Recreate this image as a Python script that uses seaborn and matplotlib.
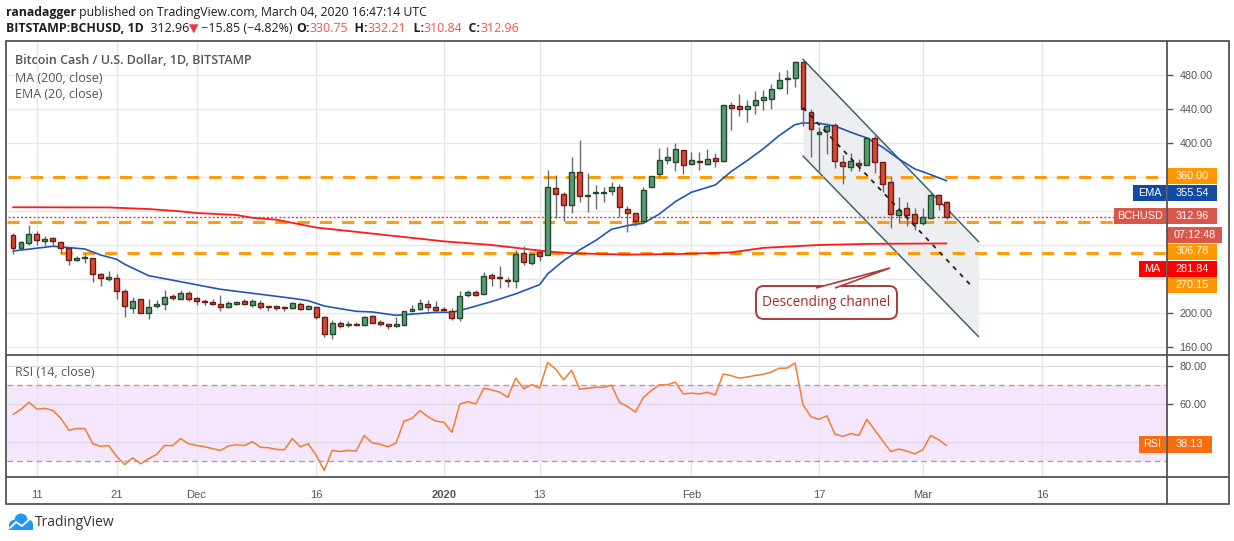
import numpy as np
import pandas as pd
import matplotlib
matplotlib.use("Agg")
import matplotlib.pyplot as plt
import seaborn as sns
from matplotlib.patches import Rectangle, FancyBboxPatch, Polygon, Circle

# ---------------- data ----------------
start_date = "2019-11-08"
opens = [292.2, 276.5, 282.8, 293.3, 284.7, 288.6, 283.9, 276.9, 262.8, 264.7,
         265.1, 246.3, 240.0, 241.6, 226.3, 205.9, 216.1, 200.4, 208.3, 211.0,
         220.4, 216.5, 224.0, 217.3, 214.5, 213.5, 211.0, 207.1, 210.6, 213.8,
         209.9, 212.2, 208.7, 207.9, 207.1, 206.3, 211.0, 205.1, 206.7, 195.7,
         175.7, 188.7, 185.5, 186.7, 186.3, 196.9, 189.9, 187.5, 184.8, 186.3,
         202.8, 205.1, 211.0, 207.5, 204.8, 202.8, 194.6, 221.2, 224.4, 222.8,
         244.8, 242.4, 239.3, 237.4, 270.7, 258.5, 271.8, 268.3, 347.1, 340.0,
         327.1, 366.0, 337.7, 340.8, 341.6, 343.6, 348.3, 322.0, 317.7, 308.3,
         348.3, 363.6, 380.0, 377.7, 391.8, 375.3, 378.9, 375.3, 382.4, 378.9,
         444.7, 443.5, 440.0, 444.7, 450.6, 451.8, 464.7, 474.9, 476.5, 495.3,
         436.5, 410.6, 413.8, 421.2, 377.7, 371.8, 376.5, 374.2, 405.9, 377.7,
         354.2, 315.4, 324.0, 316.1, 305.9, 311.4, 338.9, 330.75]
highs = [294.5, 284.3, 303.1, 296.1, 291.0, 289.4, 283.9, 277.7, 267.5, 269.8,
         265.1, 247.1, 249.0, 246.3, 228.7, 218.5, 216.9, 216.9, 214.9, 226.7,
         222.0, 226.7, 225.5, 218.9, 216.1, 216.1, 220.8, 214.5, 213.8, 216.1,
         216.1, 214.9, 208.7, 208.0, 208.7, 213.0, 212.6, 209.0, 207.9, 196.5,
         192.2, 190.2, 191.0, 189.1, 196.5, 198.0, 191.4, 187.5, 195.0, 202.8,
         210.0, 216.1, 214.9, 213.8, 207.1, 205.5, 225.5, 226.7, 227.5, 247.9,
         246.8, 255.8, 242.0, 274.2, 279.3, 270.7, 272.6, 368.7, 362.8, 342.8,
         383.6, 404.0, 365.1, 351.0, 347.9, 354.6, 352.0, 325.9, 317.7, 348.3,
         361.2, 394.2, 395.7, 399.6, 391.8, 389.8, 389.8, 393.4, 388.3, 444.7,
         447.9, 457.7, 450.6, 461.2, 462.4, 469.4, 483.5, 485.9, 496.5, 496.5,
         440.0, 418.5, 423.6, 423.6, 385.9, 388.3, 381.2, 407.5, 409.4, 377.7,
         361.2, 336.9, 331.0, 323.2, 323.2, 341.2, 340.0, 332.21]
lows = [269.8, 276.0, 279.6, 280.4, 280.4, 280.4, 271.0, 256.5, 261.2, 259.2,
        236.5, 231.4, 237.7, 216.5, 195.3, 200.0, 200.0, 193.0, 205.9, 203.6,
        215.7, 216.5, 214.2, 209.5, 209.5, 209.5, 202.4, 205.9, 209.9, 209.9,
        207.1, 205.1, 202.4, 204.0, 202.4, 205.1, 203.6, 204.7, 193.0, 171.8,
        169.5, 182.4, 183.6, 185.9, 186.3, 188.3, 184.8, 181.2, 183.6, 186.3,
        202.8, 203.2, 202.4, 202.4, 202.0, 191.4, 190.6, 218.9, 220.0, 222.8,
        231.5, 229.1, 230.3, 229.1, 256.9, 256.9, 260.9, 268.3, 311.8, 307.9,
        317.3, 330.3, 318.5, 322.4, 330.3, 338.5, 313.4, 295.0, 302.8, 308.3,
        348.3, 360.0, 375.3, 366.7, 363.6, 374.2, 368.3, 374.2, 371.4, 377.3,
        415.3, 431.4, 424.7, 434.1, 438.8, 440.0, 463.5, 457.7, 465.9, 420.0,
        383.2, 366.7, 387.1, 370.2, 351.4, 367.1, 367.1, 374.2, 364.8, 342.0,
        300.0, 306.3, 302.8, 297.7, 303.6, 311.4, 321.2, 310.84]
closes = [276.9, 283.2, 293.3, 286.3, 287.5, 284.7, 276.9, 262.8, 265.1, 266.3,
          246.3, 241.2, 242.8, 225.9, 208.7, 214.5, 200.4, 206.7, 211.0, 219.3,
          217.7, 224.0, 216.5, 214.5, 213.0, 210.6, 207.1, 211.4, 212.6, 210.6,
          213.8, 207.1, 207.1, 206.3, 206.3, 211.4, 205.1, 207.9, 195.7, 175.7,
          188.7, 185.2, 187.5, 185.9, 195.7, 188.3, 187.1, 184.8, 187.5, 202.8,
          204.4, 212.2, 207.1, 203.6, 203.6, 194.6, 220.4, 224.4, 221.2, 244.0,
          240.9, 240.9, 237.4, 269.5, 259.7, 269.5, 266.8, 348.3, 340.0, 327.1,
          366.0, 337.7, 339.3, 342.4, 342.4, 348.3, 324.8, 317.7, 308.3, 344.8,
          361.2, 380.0, 383.6, 393.0, 374.2, 380.4, 377.7, 381.2, 378.9, 444.7,
          441.2, 440.0, 443.5, 450.6, 454.1, 463.5, 474.1, 476.5, 495.3, 440.0,
          416.5, 412.6, 420.0, 378.9, 372.6, 378.9, 373.8, 405.9, 377.7, 351.8,
          316.1, 321.2, 315.4, 305.9, 313.0, 338.9, 328.8, 312.96]
rsi_values = [54.5, 57.2, 60.9, 57.3, 57.7, 56.6, 52.4, 46.2, 47.1, 47.1,
              39.1, 37.7, 38.1, 32.4, 28.1, 31.7, 28.5, 31.2, 33.5, 38.2,
              38.1, 41.8, 39.1, 38.2, 37.5, 36.5, 35.6, 37.9, 38.6, 38.1,
              40.2, 37.2, 37.0, 36.1, 35.9, 41.8, 37.5, 39.1, 32.9, 25.0,
              35.6, 35.0, 35.6, 35.2, 43.4, 39.6, 38.8, 37.5, 39.5, 51.0,
              52.4, 56.5, 53.3, 51.0, 50.4, 45.1, 60.0, 61.2, 60.0, 68.3,
              67.4, 66.2, 63.5, 73.6, 68.0, 70.3, 68.3, 81.9, 78.4, 72.7,
              77.7, 67.8, 68.3, 68.8, 68.8, 69.9, 60.9, 58.6, 55.8, 63.5,
              67.1, 70.1, 70.1, 71.5, 65.3, 65.7, 65.3, 66.2, 64.8, 75.8,
              74.9, 73.6, 74.2, 75.0, 75.6, 76.8, 78.8, 78.9, 81.6, 59.5,
              53.3, 51.9, 53.8, 44.1, 43.0, 44.4, 43.5, 51.9, 46.2, 40.5,
              35.0, 36.3, 35.2, 33.8, 35.9, 43.4, 41.2, 38.13]

ema_dates = ["2019-11-08", "2019-11-13", "2019-11-17", "2019-11-19", "2019-11-21",
             "2019-11-22", "2019-11-25", "2019-11-29", "2019-12-04", "2019-12-08",
             "2019-12-13", "2019-12-15", "2019-12-17", "2019-12-21", "2019-12-23",
             "2019-12-26", "2019-12-27", "2019-12-31", "2020-01-02", "2020-01-04",
             "2020-01-07", "2020-01-10", "2020-01-13", "2020-01-14", "2020-01-16",
             "2020-01-18", "2020-01-20", "2020-01-22", "2020-01-24", "2020-01-26",
             "2020-01-28", "2020-01-30", "2020-02-01", "2020-02-04", "2020-02-06",
             "2020-02-08", "2020-02-10", "2020-02-12", "2020-02-14", "2020-02-15",
             "2020-02-17", "2020-02-19", "2020-02-21", "2020-02-23", "2020-02-25",
             "2020-02-27", "2020-02-29", "2020-03-02", "2020-03-04"]
ema_values = [272.9, 278.5, 275.3, 268.2, 263.1, 257.3, 243.9, 236.8, 227.9, 223.2,
              217.3, 214.5, 208.2, 202.0, 201.2, 197.3, 198.0, 200.8, 200.8, 205.5,
              213.5, 222.5, 233.4, 246.0, 261.6, 274.2, 285.2, 298.5, 302.8, 305.6,
              316.5, 331.0, 342.0, 350.6, 366.5, 379.3, 393.0, 408.7, 421.6, 423.6,
              423.2, 420.0, 412.6, 405.9, 394.9, 381.2, 369.5, 362.8, 355.54]

ma_dates = ["2019-11-08", "2019-11-20", "2019-11-25", "2019-11-29", "2019-12-01",
            "2019-12-06", "2019-12-08", "2019-12-11", "2019-12-16", "2019-12-20",
            "2019-12-27", "2020-01-01", "2020-01-07", "2020-01-14", "2020-01-17",
            "2020-01-24", "2020-01-31", "2020-02-06", "2020-02-10", "2020-02-17",
            "2020-02-23", "2020-03-04"]
ma_values = [324.4, 324.2, 322.3, 319.6, 317.6, 315.3, 312.0, 309.8, 300.5, 296.5,
             289.4, 284.3, 280.0, 272.3, 270.3, 268.7, 269.5, 271.3, 276.6, 280.0,
             281.3, 281.84]

levels = [360.00, 306.78, 270.15]
channel_dates = ["2020-02-15", "2020-03-08"]
channel_upper = [498.5, 283.9]
channel_lower = [384.7, 172.1]
midline_dates = ["2020-02-15", "2020-03-07"]
midline_values = [441.6, 232.9]

tick_dates = ["2019-11-11", "2019-11-21", "2019-12-01", "2019-12-16", "2020-01-01",
              "2020-01-13", "2020-02-01", "2020-02-17", "2020-03-01", "2020-03-16"]
tick_labels = ["11", "21", "Dec", "16", "2020", "13", "Feb", "17", "Mar", "16"]
price_ticks = [160, 200, 240, 280, 320, 360, 400, 440, 480]
price_tick_labels = ["160.00", "200.00", "", "", "", "", "400.00", "440.00", "480.00"]
rsi_ticks = [40, 60, 80]
rsi_tick_labels = ["", "60.00", "80.00"]

# ---------------- setup ----------------
sns.set_theme(style="white")
plt.rcParams["font.family"] = ["Liberation Sans", "DejaVu Sans"]

W, H = 1234, 541
fig = plt.figure(figsize=(W / 100, H / 100), dpi=100)
fig.patch.set_facecolor("white")

def fpos(x0, y0, x1, y1):
    return [x0 / W, 1 - y1 / H, (x1 - x0) / W, (y1 - y0) / H]

LEFT, RIGHT = 7, 1167
TOP, MID, BOT = 41, 355, 477
ax1 = fig.add_axes(fpos(LEFT, TOP, RIGHT, MID))
ax2 = fig.add_axes(fpos(LEFT, MID, RIGHT, BOT), sharex=ax1)

t0 = pd.Timestamp(start_date)
def idx(ds):
    return np.array([(pd.Timestamp(d) - t0).days for d in ds], dtype=float)

n = len(closes)
df = pd.DataFrame({"i": np.arange(n), "open": opens, "high": highs,
                   "low": lows, "close": closes, "rsi": rsi_values})

PX, X0 = 7.98, 13
ax1.set_xlim((LEFT - X0) / PX, (RIGHT - X0) / PX)
ax1.set_ylim(480 - (MID - 75) / 0.85, 480 + (75 - TOP) / 0.85)
ax2.set_ylim(60 - (BOT - 404) / 1.9, 80 + (366 - MID) / 1.9)

grid_c = "#e7e7e7"
tick_pos = idx(tick_dates)
for ax in (ax1, ax2):
    ax.set_facecolor("white")
    for s in ax.spines.values():
        s.set_visible(False)
    ax.set_xticks(tick_pos)
    ax.xaxis.grid(True, color=grid_c, lw=1)
    ax.yaxis.grid(True, color=grid_c, lw=1)
    ax.set_axisbelow(True)
    ax.yaxis.tick_right()
    ax.tick_params(axis="y", which="both", right=True, length=4, width=1, color="#555",
                   pad=5, labelsize=7.8, labelcolor="#555")

ax1.set_yticks(price_ticks)
ax1.set_yticklabels(price_tick_labels)
ax1.tick_params(axis="x", bottom=False, labelbottom=False)

ax2.set_yticks(rsi_ticks)
ax2.set_yticklabels(rsi_tick_labels)
ax2.yaxis.grid(True, color="#e0d9e8", lw=1)
ax2.set_xticklabels(tick_labels)
ax2.tick_params(axis="x", bottom=False, length=0, pad=9, labelsize=8, labelcolor="#555")
for lab in ax2.get_xticklabels():
    if lab.get_text() == "2020":
        lab.set_fontweight("bold")

# ---------------- price panel ----------------
xl0, xl1 = ax1.get_xlim()
cx = idx(channel_dates)
ax1.fill_between(cx, channel_lower, channel_upper, color="#eceef2", lw=0, zorder=1)
ax1.plot(cx, channel_upper, color="#3d6466", lw=1.1, zorder=2)
ax1.plot(cx, channel_lower, color="#3d6466", lw=1.1, zorder=2)

lvl_start = [xl0 + 0.1, xl0, 5.9]
for lv, xs in zip(levels, lvl_start):
    ax1.hlines(lv, xs, xl1, color="#ff9800", lw=2.2, linestyles=[(0, (4, 3.3))], zorder=2, alpha=0.95)

ax1.hlines(closes[-1], xl0 + 0.1, xl1, color="#e53935", lw=1, linestyles=[(0, (1.5, 1.5))], zorder=2)

sns.lineplot(x=idx(ma_dates), y=ma_values, ax=ax1, color="#ff1a1a", lw=1.3, zorder=3, sort=False)
sns.lineplot(x=idx(ema_dates), y=ema_values, ax=ax1, color="#2156b8", lw=1.2, zorder=3, sort=False)

up = df["close"] >= df["open"]
fills = np.where(up, "#5b9c74", "#d44a38")
edges = np.where(up, "#1f4a2d", "#6e1c14")
ax1.vlines(df["i"], df["low"], df["high"], color="#6a6a6a", lw=1, zorder=4)
body_h = np.maximum((df["close"] - df["open"]).abs(), 0.9)
ax1.bar(df["i"], body_h, bottom=np.minimum(df["open"], df["close"]), width=0.62,
        color=fills, edgecolor=edges, linewidth=1, zorder=5)

ax1.plot(idx(midline_dates), midline_values, color="#222222", lw=1.3,
         ls=(0, (2.5, 3)), zorder=6)

# ---------------- RSI panel ----------------
ax2.axhspan(30, 70, color="#f3e6fd", zorder=0, lw=0)
for v in (30, 70):
    ax2.axhline(v, color="#a59fae", lw=1, ls=(0, (4, 3)), zorder=1)
sns.lineplot(x=df["i"], y=df["rsi"], ax=ax2, color="#f57c2e", lw=1.1, zorder=3)
for ax in (ax1, ax2):
    ax.set_xlabel("")
    ax.set_ylabel("")

# ---------------- overlay (pixel coordinates) ----------------
ov = fig.add_axes([0, 0, 1, 1], zorder=20)
ov.set_xlim(0, W)
ov.set_ylim(H, 0)
ov.axis("off")
ov.patch.set_alpha(0)

fc = "#555555"
ov.add_patch(Rectangle((6, TOP), 1223, 504 - TOP, fill=False, ec=fc, lw=1.3))
ov.plot([RIGHT, RIGHT], [TOP, 504], color=fc, lw=1.3)
ov.plot([6, 1229], [MID, MID], color=fc, lw=1.3)
ov.plot([6, 1229], [BOT, BOT], color=fc, lw=1.3)

def tag(x0, x1, yc, text, color, h=16, fs=7.8):
    ov.add_patch(Rectangle((x0, yc - h / 2), x1 - x0, h, fc=color, ec="none"))
    ov.text((x0 + x1) / 2, yc, text, color="white", ha="center", va="center", fontsize=fs)

ORANGE = "#ff9800"
tag(1167, 1217, 176.3, f"{levels[0]:.2f}", ORANGE)
tag(1133, 1166, 193.3, "EMA", "#134aa3")
tag(1167, 1217, 193.3, f"{ema_values[-1]:.2f}", "#134aa3")
tag(1114, 1166, 216.0, "BCHUSD", "#d9574a")
tag(1167, 1217, 216.0, f"{closes[-1]:.2f}", "#d9574a")
tag(1167, 1222, 235.3, "07:12:48", "#d9574a")
tag(1167, 1217, 251.5, f"{levels[1]:.2f}", ORANGE)
tag(1139, 1166, 268.5, "MA", "#ff0000")
tag(1167, 1217, 268.5, f"{ma_values[-1]:.2f}", "#ff0000")
tag(1167, 1217, 285.3, f"{levels[2]:.2f}", ORANGE)
tag(1139, 1166, 444.3, "RSI", "#f96d10", h=17)
tag(1167, 1212, 444.3, f"{rsi_values[-1]:.2f}", "#f96d10", h=17)

# header text runs
renderer = fig.canvas.get_renderer()
HF = ["Open Sans", "DejaVu Sans"]
def run(x, y, parts, fs):
    for s, col, wt in parts:
        t = ov.text(x, y, s, color=col, fontweight=wt, fontsize=fs, va="center",
                    ha="left", family=HF)
        bb = t.get_window_extent(renderer)
        x += bb.width
    return x

DK = "#1e1e1e"
RED = "#ef5350"
run(6, 12.5, [("ranadagger", DK, "bold"),
              (" published on TradingView.com, March 04, 2020 16:47:14 UTC", DK, "normal")],
    fs=8.8)
run(6, 29, [("BITSTAMP:BCHUSD, 1D", DK, "bold"), ("  312.96", DK, "normal"),
            ("▼", "#f23645", "normal"), (" \u221215.85 (\u22124.82%) ", DK, "normal"),
            ("O:", DK, "bold"), ("330.75", RED, "normal"), ("  H:", DK, "bold"),
            ("332.21", RED, "normal"), ("  L:", DK, "bold"), ("310.84", RED, "normal"),
            ("  C:", DK, "bold"), ("312.96", RED, "normal")], fs=8.9)

ov.text(15, 61, "Bitcoin Cash / U.S. Dollar, 1D, BITSTAMP", color="#555", fontsize=9.0,
        fontweight="semibold", va="center", family=HF)
ov.text(15, 78, "MA (200, close)", color="#555", fontsize=9.0, va="center", family=HF)
ov.text(15, 95, "EMA (20, close)", color="#555", fontsize=9.0, va="center", family=HF)
ov.text(15, 373, "RSI (14, close)", color="#555", fontsize=9.0, va="center", family=HF)

# callout
CR = "#ad3a3a"
ov.add_patch(FancyBboxPatch((756, 286), 141, 33, boxstyle="round,pad=0,rounding_size=8",
                            fc="white", ec=CR, lw=1.4, zorder=3))
ov.add_patch(Polygon([(816, 288), (890, 268), (835, 288)], closed=False,
                     fc="white", ec=CR, lw=1.2, zorder=4))
ov.text(826.5, 302.5, "Descending channel", color="#a32a2a", fontsize=9.8,
        ha="center", va="center", family=HF, zorder=5)

# TradingView logo
BL = "#2196f3"
for (cxp, cyp, r) in [(14, 525, 5), (21, 520, 6.5), (28, 524.5, 5)]:
    ov.add_patch(Circle((cxp, cyp), r, fc=BL, ec="none"))
ov.add_patch(Rectangle((9, 524), 24, 6, fc=BL, ec="none"))
ov.plot([10, 16, 22, 31], [528, 522, 526, 518], color="white", lw=1.3)
ov.text(35, 522, "TradingView", color="#333", fontsize=10, va="center", family=HF)

fig.savefig("out.png", dpi=100)
